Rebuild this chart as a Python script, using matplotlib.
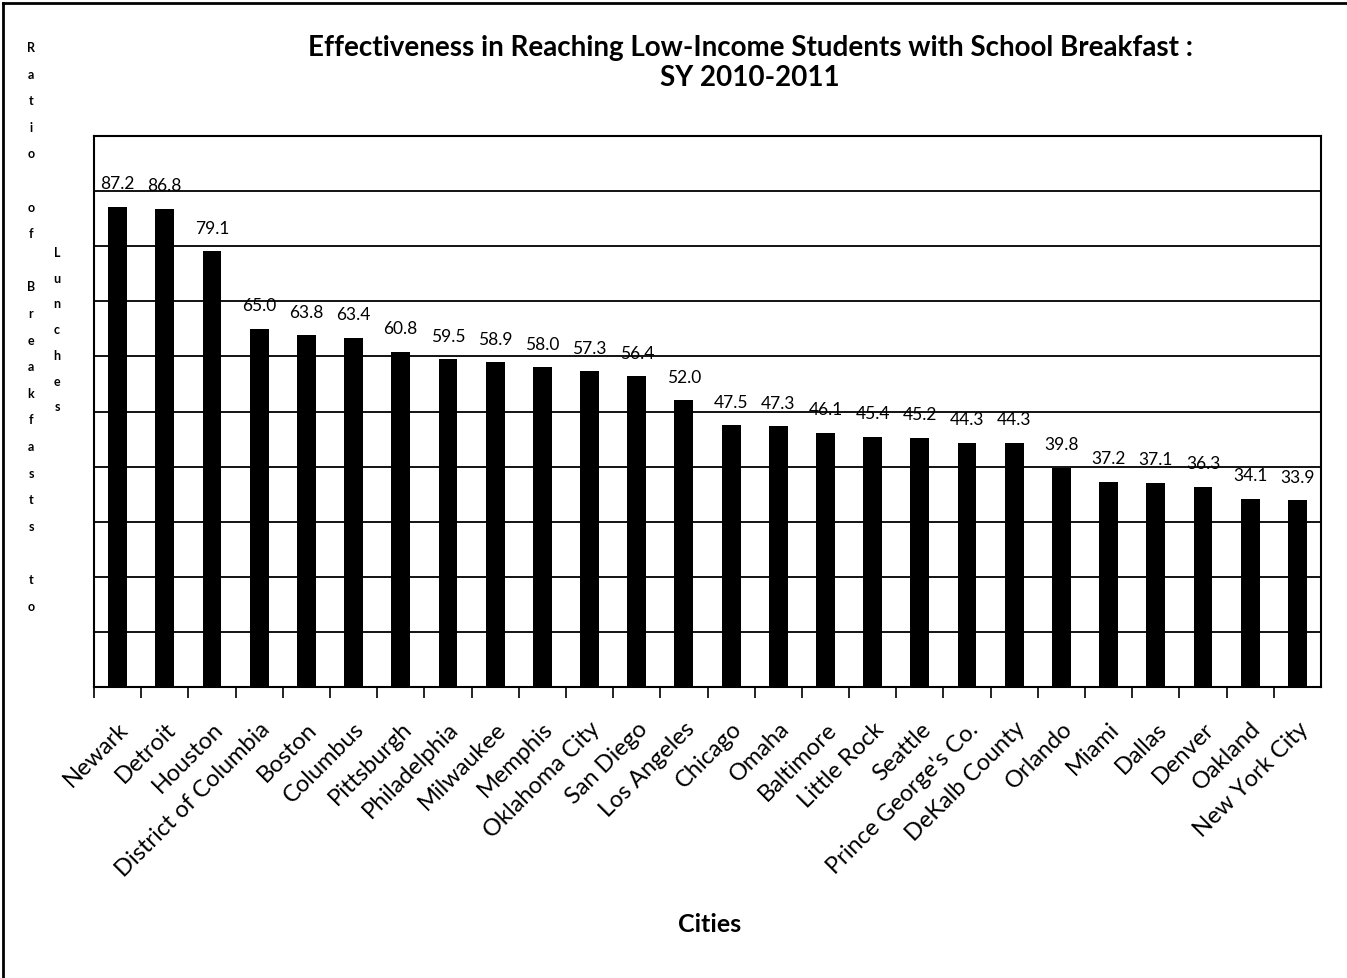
import numpy as np
import matplotlib.pyplot as plt
from matplotlib.lines import Line2D

plt.rcParams['font.family'] = ['Lato', 'DejaVu Sans']

cities = ["Newark", "Detroit", "Houston", "District of Columbia", "Boston",
          "Columbus", "Pittsburgh", "Philadelphia", "Milwaukee", "Memphis",
          "Oklahoma City", "San Diego", "Los Angeles", "Chicago", "Omaha",
          "Baltimore", "Little Rock", "Seattle", "Prince George's Co.",
          "DeKalb County", "Orlando", "Miami", "Dallas", "Denver", "Oakland",
          "New York City"]
ratios = [87.2, 86.8, 79.1, 65.0, 63.8, 63.4, 60.8, 59.5, 58.9, 58.0,
          57.3, 56.4, 52.0, 47.5, 47.3, 46.1, 45.4, 45.2, 44.3, 44.3,
          39.8, 37.2, 37.1, 36.3, 34.1, 33.9]

title = "Effectiveness in Reaching Low-Income Students with School Breakfast :\nSY 2010-2011"
ylab_1 = "Ratio of Breakfasts to"
ylab_2 = "Lunches"

W, H = 1347, 979
fig = plt.figure(figsize=(W / 100, H / 100), dpi=100)
ax = fig.add_axes([94 / W, 1 - 688 / H, 1227 / W, 551 / H])

x = np.arange(len(cities))
ax.bar(x, ratios, width=0.4, color='black', zorder=3)

# value labels sit a bit above each bar
for xi, v in zip(x, ratios):
    ax.annotate(f"{v:.1f}", (xi, v), xytext=(0, 17), textcoords='offset points',
                ha='center', va='center', fontsize=12.5, zorder=4)

ax.set_xlim(-0.5, len(cities) - 0.5)
ax.set_ylim(0, 100)
ax.set_yticks(np.arange(0, 101, 10))
ax.yaxis.grid(True, color='black', linewidth=1.3, zorder=1)
ax.tick_params(axis='y', left=False, labelleft=False)

# ticks between categories, labels under bars
ax.set_xticks(x - 0.5, minor=False)
ax.set_xticklabels([])
ax.set_xticks(x, minor=True)
ax.set_xticklabels(cities, minor=True, rotation=45, ha='right',
                   rotation_mode='anchor', fontsize=17)
ax.tick_params(axis='x', which='major', direction='out', length=8,
               width=1.2, color='black')
ax.tick_params(axis='x', which='minor', length=0, pad=22)

for s in ax.spines.values():
    s.set_color('black')
    s.set_linewidth(1.5)

fig.text(750 / W, 1 - 63 / H, title, ha='center', va='center',
         fontsize=20, fontweight='bold', linespacing=1.15)
fig.text(710 / W, 1 - 925 / H, "Cities", ha='center', va='center',
         fontsize=18, fontweight='bold')

# stacked y-axis label, one letter per row
for i, ch in enumerate(ylab_1):
    fig.text(31 / W, 1 - (48 + i * 26.6) / H, ch, ha='center', va='center',
             fontsize=9, fontweight='bold')
for i, ch in enumerate(ylab_2):
    fig.text(57 / W, 1 - (253 + i * 25.7) / H, ch, ha='center', va='center',
             fontsize=9, fontweight='bold')

# page border (top and left)
fig.add_artist(Line2D([3 / W, 1], [1 - 4 / H, 1 - 4 / H], color='black', lw=2))
fig.add_artist(Line2D([3 / W, 3 / W], [0, 1 - 4 / H], color='black', lw=2))

fig.savefig("out.png", dpi=100)
